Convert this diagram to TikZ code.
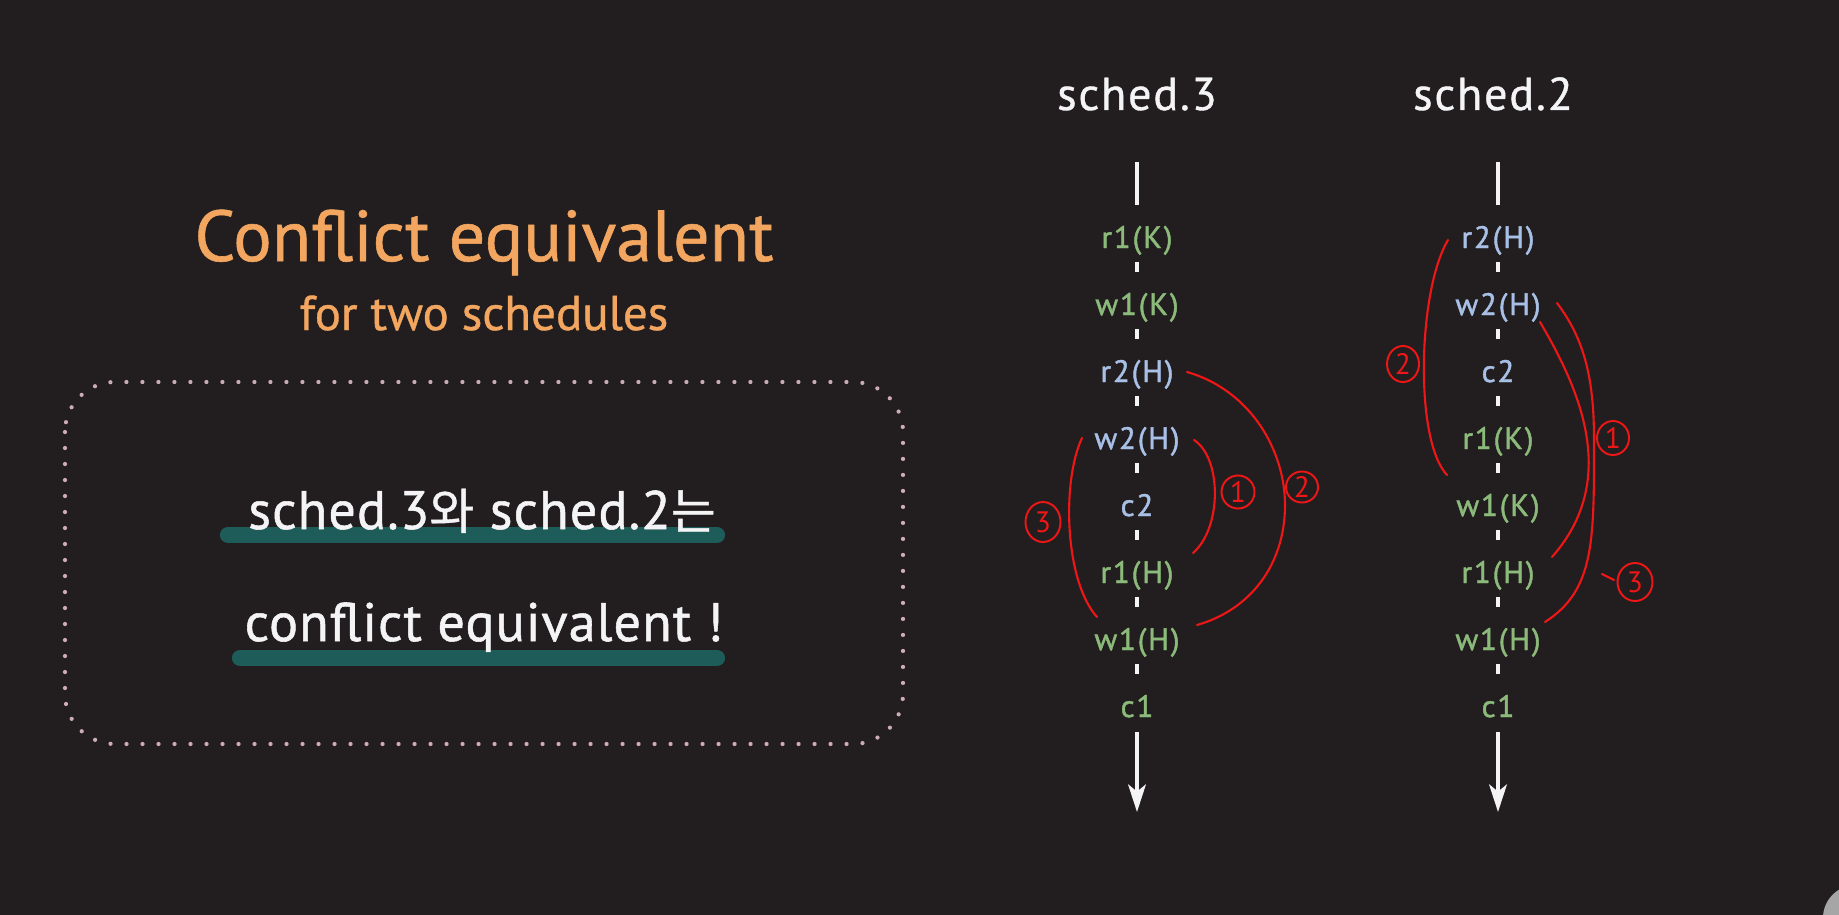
\documentclass[tikz,border=0pt]{standalone}
\usepackage{fontspec}
\usetikzlibrary{arrows.meta,calc,shapes.geometric}
\setmainfont{PT Sans}
\newfontfamily\titlefont[FakeBold=0.8]{PT Sans}
\newfontfamily\headfont[LetterSpace=4,FakeBold=0.8]{PT Sans}
\newfontfamily\itemfont[LetterSpace=6,FakeBold=1.4]{PT Sans}
\newfontfamily\bodyfont[LetterSpace=2,FakeBold=1]{PT Sans}
\newfontfamily\krfont[Scale=0.9,FakeBold=0.8]{Noto Sans CJK KR}
\newfontfamily\numfont{PT Sans}

\definecolor{bg}{HTML}{221E1F}
\definecolor{orangetitle}{RGB}{242,166,96}
\definecolor{itemgreen}{RGB}{140,186,122}
\definecolor{itemblue}{RGB}{168,192,230}
\definecolor{tealbar}{RGB}{29,92,88}
\definecolor{dotpink}{RGB}{205,172,180}
\definecolor{inkred}{RGB}{238,22,22}
\definecolor{softwhite}{RGB}{244,244,246}

\begin{document}
\begin{tikzpicture}[x=0.01cm,y=-0.01cm,
  titletext/.style={anchor=base,inner sep=0pt,text=orangetitle},
  headtext/.style={anchor=base,inner sep=0pt,text=softwhite,
    font=\headfont\fontsize{13.1pt}{15pt}\selectfont},
  bodytext/.style={anchor=base,inner sep=0pt,text=softwhite,
    font=\bodyfont\fontsize{15.4pt}{18pt}\selectfont},
  item/.style={anchor=base,inner sep=0pt,
    font=\itemfont\fontsize{8.8pt}{10pt}\selectfont},
  tg/.style={item,text=itemgreen},
  tb/.style={item,text=itemblue},
  spine/.style={draw=softwhite,line width=1.15pt},
  bar/.style={draw=tealbar,line width=4.6pt,line cap=round},
  dotbox/.style={draw=dotpink,line width=1.2pt,line cap=round,
    dash pattern=on 0pt off 4.55pt,rounded corners=0.5cm},
  redline/.style={draw=inkred,line width=0.6pt,line cap=round},
  numc/.style={ellipse,draw=inkred,line width=0.55pt,inner sep=0pt,
    text=inkred,font=\numfont\fontsize{8.4pt}{9pt}\selectfont},
]
% background and page frame
\fill[bg] (0,0) rectangle (1839,915);
\useasboundingbox (0,0) rectangle (1839,915);

% ---------- left panel ----------
\node[titletext,font=\titlefont\fontsize{20.5pt}{24pt}\selectfont] (title) at (484,261) {Conflict equivalent};
\node[titletext,font=\titlefont\fontsize{13.9pt}{16pt}\selectfont] (subtitle) at (484,330) {for two schedules};

\draw[dotbox] (65,382) rectangle (903,744);

\draw[bar] (228,535) -- (717,535);
\draw[bar] (240,658) -- (717,658);
\node[bodytext] (claim1) at (482,529) {sched.3{\krfont 와} sched.2{\krfont 는}};
\node[bodytext] (claim2) at (484,641) {conflict equivalent !};

% ---------- schedule columns ----------
\node[headtext] (head3) at (1137,110) {sched.3};
\node[headtext] (head2) at (1493,110) {sched.2};

% sched.3 operations
\foreach \lbl/\sty [count=\i from 0] in
  {r1(K)/tg,w1(K)/tg,r2(H)/tb,w2(H)/tb,c2/tb,r1(H)/tg,w1(H)/tg,c1/tg}
  \node[\sty] (sa\i) at (1137,{248+67*\i}) {\lbl};
% sched.2 operations
\foreach \lbl/\sty [count=\i from 0] in
  {r2(H)/tb,w2(H)/tb,c2/tb,r1(K)/tg,w1(K)/tg,r1(H)/tg,w1(H)/tg,c1/tg}
  \node[\sty] (sb\i) at (1498,{248+67*\i}) {\lbl};

% time axes: lead-in bar, short ticks between steps, closing arrow
\foreach \cx in {1137,1498}{
  \draw[spine] (\cx,162) -- (\cx,205);
  \foreach \i in {0,...,6}
    \draw[spine] (\cx,{262+67*\i}) -- (\cx,{272+67*\i});
  \draw[spine,-{Stealth[length=7.8pt,width=5pt,inset=2pt]}] (\cx,732) -- (\cx,812);
}

% ---------- conflict pairs, sched.3 ----------
\coordinate (a1s) at (1194,440); \coordinate (a1e) at (1193,553);
\draw[redline] (a1s) .. controls (1222,458) and (1222,528) .. (a1e);
\node[numc,minimum width=0.33cm,minimum height=0.33cm] (na1) at (1238,492) {1};

\coordinate (a2s) at (1187,372); \coordinate (a2m) at (1285,505); \coordinate (a2e) at (1197,625);
\draw[redline] (a2s) .. controls (1250,390) and (1285,450) .. (a2m)
  .. controls (1285,565) and (1250,610) .. (a2e);
\node[numc,minimum width=0.32cm,minimum height=0.31cm] (na2) at (1302,487) {2};

\coordinate (a3s) at (1082,438); \coordinate (a3e) at (1097,617);
\draw[redline] (a3s) .. controls (1062,480) and (1064,580) .. (a3e);
\node[numc,minimum width=0.35cm,minimum height=0.40cm] (na3) at (1043,522) {3};

% ---------- conflict pairs, sched.2 ----------
\coordinate (b2s) at (1448,240); \coordinate (b2e) at (1447,475);
\draw[redline] (b2s) .. controls (1418,290) and (1414,440) .. (b2e);
\node[numc,minimum width=0.32cm,minimum height=0.36cm] (nb2) at (1403,364) {2};

\coordinate (b1s) at (1540,322); \coordinate (b1e) at (1552,557);
\draw[redline] (b1s) .. controls (1580,390) and (1620,480) .. (b1e);
\coordinate (b3s) at (1557,303); \coordinate (b3m) at (1594,440); \coordinate (b3e) at (1545,622);
\draw[redline] (b3s) .. controls (1585,340) and (1594,380) .. (b3m)
  .. controls (1594,540) and (1595,590) .. (b3e);
\node[numc,minimum width=0.32cm,minimum height=0.34cm] (nb1) at (1613,438) {1};
\node[numc,minimum width=0.35cm,minimum height=0.38cm] (nb3) at (1635,582) {3};
\coordinate (b3t) at (1602,574);
\coordinate (b3u) at (1614,580);
\draw[redline] (b3t) -- (b3u);

% corner badge
\fill[gray!70] (1856,918) circle (0.33cm);
\end{tikzpicture}
\end{document}
